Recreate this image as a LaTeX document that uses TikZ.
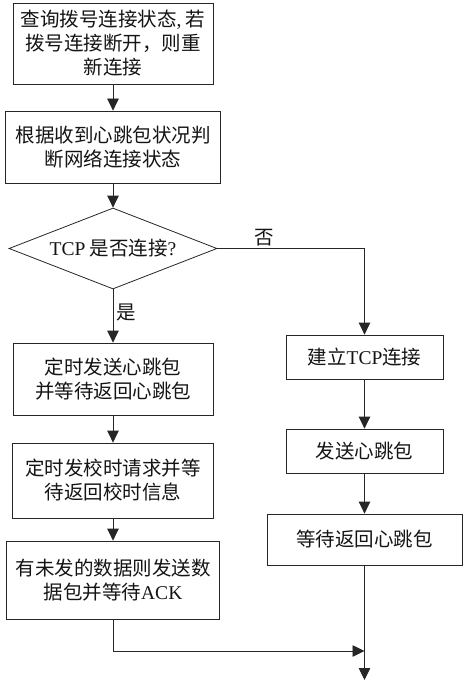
\documentclass[tikz,border=0pt]{standalone}
\usepackage{fontspec}
\setmainfont{Noto Sans CJK SC}
\newfontfamily\lat{Liberation Serif}
\usetikzlibrary{shapes.geometric,arrows.meta}
\begin{document}
\begin{tikzpicture}[x=1pt,y=-1pt,
  box/.style={draw=black!85,line width=0.8pt,rectangle,align=center,inner sep=0pt,
    font=\fontsize{19.5}{24}\selectfont,text=black!92},
  dec/.style={draw=black!85,line width=0.8pt,diamond,inner sep=0pt,aspect=2.57,
    font=\fontsize{19.5}{24}\selectfont,text=black!92},
  arr/.style={draw=black!85,line width=0.8pt,-{Triangle[width=11.5pt,length=12pt]}},
  lab/.style={font=\fontsize{19.5}{24}\selectfont,text=black!92}]
\useasboundingbox (0,0) rectangle (466,700);
\fill[white] (0,0) rectangle (466,700);

\node[box,minimum width=200pt,minimum height=81pt] (b1) at (113,43.5)
  {查询拨号连接状态{\lat,} 若\\拨号连接断开，则重\\新连接};
\node[box,minimum width=215pt,minimum height=72pt] (b2) at (113,147)
  {根据收到心跳包状况判\\断网络连接状态};
\node[dec,minimum width=208pt,minimum height=81pt] (d) at (113,248.5)
  {{\lat TCP} 是否连接{\lat ?}};
\node[box,minimum width=200pt,minimum height=72pt] (b3) at (113,379)
  {定时发送心跳包\\并等待返回心跳包};
\node[box,minimum width=201pt,minimum height=75pt] (b4) at (113,480.5)
  {定时发校时请求并等\\待返回校时信息};
\node[box,minimum width=213pt,minimum height=78pt] (b5) at (113,580)
  {有未发的数据则发送数\\据包并等待{\lat ACK}};

\node[box,minimum width=157pt,minimum height=44pt] (b6) at (364.5,357)
  {建立{\lat TCP}连接};
\node[box,minimum width=157pt,minimum height=44pt] (b7) at (364.5,451)
  {发送心跳包};
\node[box,minimum width=195pt,minimum height=51pt] (b8) at (364.5,539.5)
  {等待返回心跳包};

\coordinate (m) at (364.5,651);
\coordinate (e) at (364.5,680);

\draw[arr] (b1) -- (b2);
\draw[arr] (b2) -- (d);
\draw[arr] (d.south) -- node[lab,right,pos=0.44]{是} (b3);
\draw[arr] (d.east) -| node[lab,above,pos=0.16,inner sep=2pt]{否} (b6);
\draw[arr] (b3) -- (b4);
\draw[arr] (b4) -- (b5);
\draw[arr] (b6) -- (b7);
\draw[arr] (b7) -- (b8);
\draw[arr] (b5.south) |- (m);
\draw[arr] (b8.south) -- (e);
\end{tikzpicture}
\end{document}
